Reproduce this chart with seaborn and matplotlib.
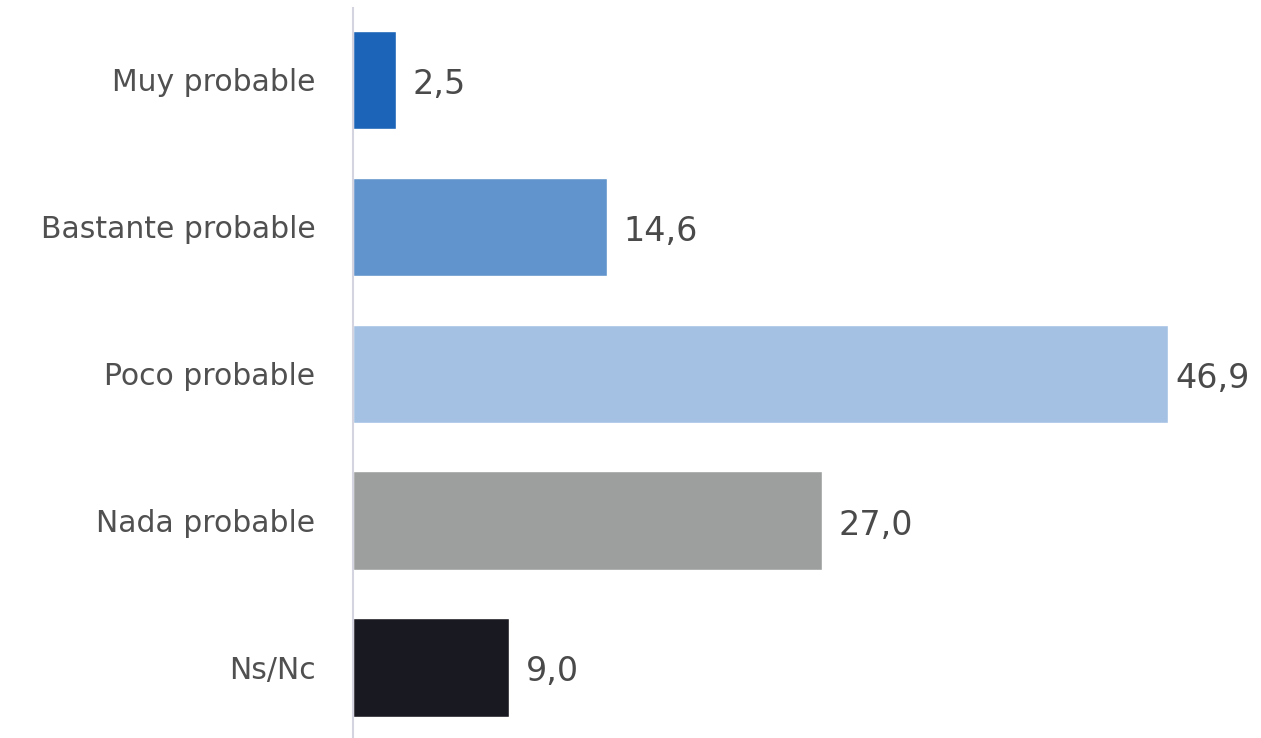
import matplotlib
matplotlib.use("Agg")
import matplotlib.pyplot as plt
import seaborn as sns
import pandas as pd

# Chart data
categories = ["Muy probable", "Bastante probable", "Poco probable", "Nada probable", "Ns/Nc"]
values = [2.5, 14.6, 46.9, 27.0, 9.0]
value_labels = ["2,5", "14,6", "46,9", "27,0", "9,0"]
bar_colors = ["#1b64b8", "#6193cc", "#a4c1e4", "#9d9e9e", "#191921"]

df = pd.DataFrame({"categoria": categories, "valor": values})

sns.set_style("white")
plt.rcParams["font.family"] = ["DejaVu Sans"]

fig = plt.figure(figsize=(12.61, 7.38), dpi=100)
ax = fig.add_axes([353 / 1261, 0.0, 1 - 353 / 1261, 1 - 8 / 738])

sns.barplot(data=df, y="categoria", x="valor", hue="categoria",
            palette=bar_colors, orient="h", width=0.67, legend=False,
            saturation=1, ax=ax)

ax.set_xlim(0, 52.25)
ax.set_ylim(4.48, -0.49)

# value labels; the longest bar leaves little room, so sits closer
for i, (v, lbl) in enumerate(zip(values, value_labels)):
    off = 0.4 if v == max(values) else 0.95
    ax.text(v + off, i + 0.03, lbl, va="center", ha="left",
            fontsize=24, color="#4a4a4a")

ax.set_xlabel("")
ax.set_ylabel("")
ax.set_xticks([])
ax.tick_params(axis="y", length=0, pad=27, labelsize=21.5, labelcolor="#505050")
for side in ["top", "right", "bottom"]:
    ax.spines[side].set_visible(False)
ax.spines["left"].set_color("#d4d4e0")
ax.spines["left"].set_linewidth(1.5)

fig.savefig("out.png", dpi=100)
plt.close(fig)
